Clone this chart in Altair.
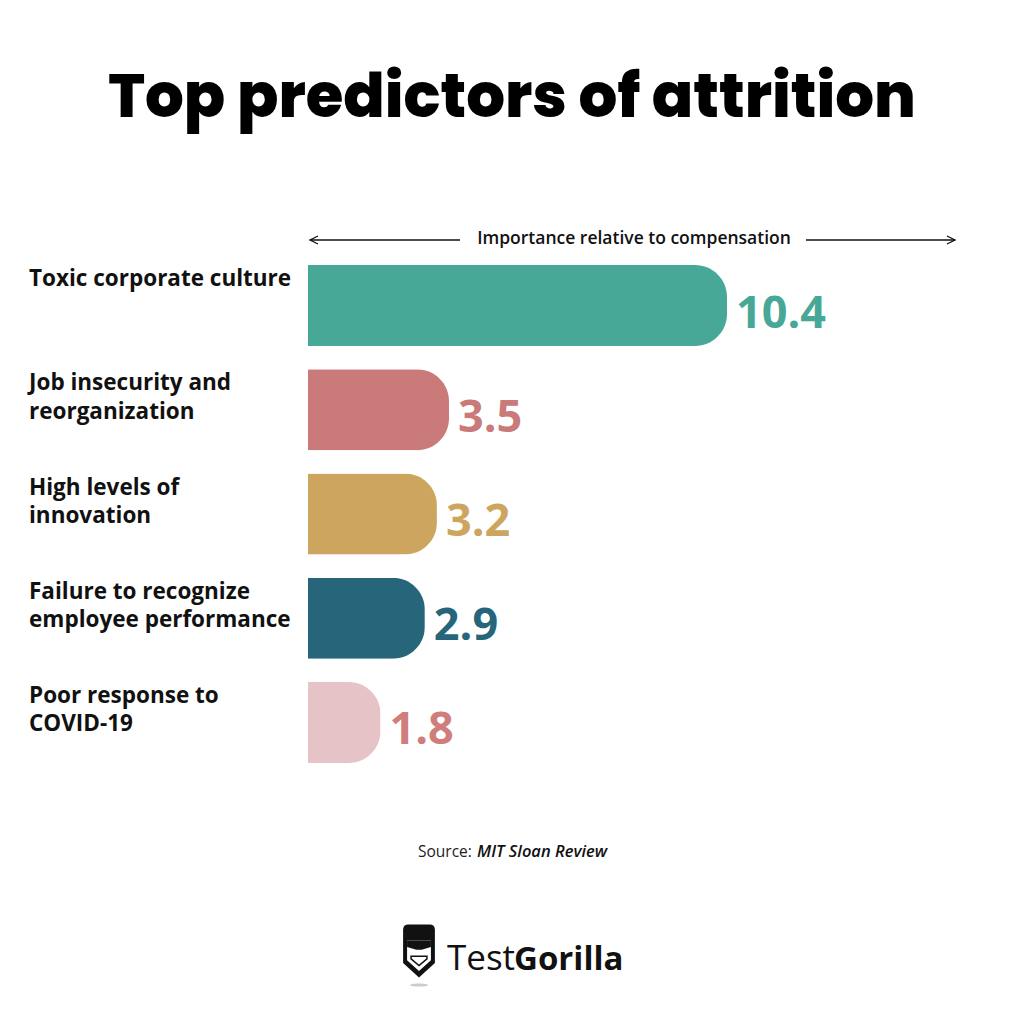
import altair as alt
import pandas as pd

# ---- data ----
categories = [
    "Toxic corporate culture",
    "Job insecurity and reorganization",
    "High levels of innovation",
    "Failure to recognize employee performance",
    "Poor response to COVID-19",
]
label_lines = [
    "Toxic corporate culture",
    "Job insecurity and\nreorganization",
    "High levels of\ninnovation",
    "Failure to recognize\nemployee performance",
    "Poor response to\nCOVID-19",
]
values = [10.4, 3.5, 3.2, 2.9, 1.8]
bar_colors = ["#48A897", "#C97A79", "#CDA55F", "#27667A", "#E5C3C7"]
label_colors = ["#48A897", "#C97A79", "#CDA55F", "#27667A", "#D07D7E"]

title_text = "Top predictors of attrition"
header_text = "Importance relative to compensation"
source_prefix = "Source:"
source_name = "MIT Sloan Review"

df = pd.DataFrame({
    "category": categories,
    "label": label_lines,
    "value": values,
    "bar_color": bar_colors,
    "label_color": label_colors,
})
one = pd.DataFrame({"a": [0]})

FONT = "Open Sans"

y_enc = alt.Y(
    "category:N", sort=categories, axis=None,
    scale=alt.Scale(domain=categories, range=[257, 755], paddingInner=0.223, paddingOuter=0),
)
x_enc = alt.X("value:Q", axis=None, scale=alt.Scale(domain=[0, 10.4], range=[300, 719]))

bars = alt.Chart(df).mark_bar(cornerRadiusEnd=32).encode(
    x=x_enc, y=y_enc, color=alt.Color("bar_color:N", scale=None)
)

value_labels = alt.Chart(df).mark_text(
    align="left", baseline="alphabetic", dx=9, dy=22,
    fontSize=45, fontWeight="bold", font=FONT,
).encode(
    x=x_enc, y=y_enc,
    text=alt.Text("value:Q", format=".1f"),
    color=alt.Color("label_color:N", scale=None),
)

cat_labels = alt.Chart(df).mark_text(
    align="left", baseline="top", dy=-37.5, lineBreak="\n", lineHeight=28.4,
    fontSize=22.5, fontWeight="bold", font=FONT, color="#111111",
).encode(x=alt.value(21), y=y_enc, text="label:N")

title = alt.Chart(one).mark_text(
    text=title_text, align="center", baseline="alphabetic",
    fontSize=61, fontWeight=800, font="Poppins, Inter", color="#000000",
).encode(x=alt.value(504), y=alt.value(109))

header = alt.Chart(one).mark_text(
    text=header_text, align="center", baseline="middle",
    fontSize=17.5, fontWeight=600, font=FONT, color="#111111",
).encode(x=alt.value(626), y=alt.value(231))

line_left = alt.Chart(one).mark_rule(color="#111111", strokeWidth=1.3).encode(
    x=alt.value(302), x2=alt.value(452), y=alt.value(232)
)
line_right = alt.Chart(one).mark_rule(color="#111111", strokeWidth=1.3).encode(
    x=alt.value(798), x2=alt.value(947), y=alt.value(232)
)
head_left = alt.Chart(one).mark_point(
    shape="M2,-1L0,0L2,1", size=64, filled=False, color="#111111", strokeWidth=1.3, opacity=1
).encode(x=alt.value(302), y=alt.value(232))
head_right = alt.Chart(one).mark_point(
    shape="M-2,-1L0,0L-2,1", size=64, filled=False, color="#111111", strokeWidth=1.3, opacity=1
).encode(x=alt.value(947), y=alt.value(232))

source1 = alt.Chart(one).mark_text(
    text=source_prefix, align="left", baseline="alphabetic",
    fontSize=15.5, font=FONT, color="#222222",
).encode(x=alt.value(410), y=alt.value(849))
source2 = alt.Chart(one).mark_text(
    text=source_name, align="left", baseline="alphabetic",
    fontSize=16.5, font=FONT, fontStyle="italic", fontWeight=600, color="#111111",
).encode(x=alt.value(469), y=alt.value(849))

# logo
logo_test = alt.Chart(one).mark_text(
    text="Test", align="left", baseline="alphabetic",
    fontSize=35, font=FONT, color="#111111",
).encode(x=alt.value(439), y=alt.value(962))
logo_gorilla = alt.Chart(one).mark_text(
    text="Gorilla", align="left", baseline="alphabetic",
    fontSize=33, font=FONT, fontWeight="bold", color="#111111",
).encode(x=alt.value(506), y=alt.value(962))

icon_outer = alt.Chart(one).mark_point(
    shape="M-0.6,-0.8Q-0.6,-1 -0.4,-1L0.4,-1Q0.6,-1 0.6,-0.8L0.6,0.45L0,1L-0.6,0.45Z",
    size=2809, filled=True, color="#111111", opacity=1,
).encode(x=alt.value(411), y=alt.value(943))
icon_face = alt.Chart(one).mark_point(
    shape="M-0.45,-0.4L0.45,-0.4L0.45,0.35L0,0.75L-0.45,0.35Z",
    size=2809, filled=True, color="#ffffff", opacity=1,
).encode(x=alt.value(411), y=alt.value(943))
icon_brow = alt.Chart(one).mark_point(
    shape="M-0.45,-0.4L0.45,-0.4L0.45,-0.15L0.1,-0.05L-0.1,-0.05L-0.45,-0.15Z",
    size=2809, filled=True, color="#111111", opacity=1,
).encode(x=alt.value(411), y=alt.value(943))
icon_mouth = alt.Chart(one).mark_point(
    shape="M-0.3,0.2L0.3,0.2L0.3,0.3L0,0.55L-0.3,0.3Z",
    size=2809, filled=False, color="#111111", strokeWidth=1.5, opacity=1,
).encode(x=alt.value(411), y=alt.value(943))
icon_shadow = alt.Chart(one).mark_point(
    shape="M-1,0A1,0.18 0 1 0 1,0A1,0.18 0 1 0 -1,0Z",
    size=324, filled=True, color="#cccccc", opacity=1,
).encode(x=alt.value(411), y=alt.value(977))

chart = alt.layer(
    title, header, line_left, line_right, head_left, head_right,
    bars, value_labels, cat_labels,
    source1, source2,
    icon_shadow, icon_outer, icon_face, icon_brow, icon_mouth,
    logo_test, logo_gorilla,
).properties(
    width=1008, height=1000,
    autosize=alt.AutoSizeParams(type="none"), padding=0,
    background="#ffffff",
).configure_view(stroke=None)

chart.save("out.html", embed_options={"renderer": "svg", "actions": False})
